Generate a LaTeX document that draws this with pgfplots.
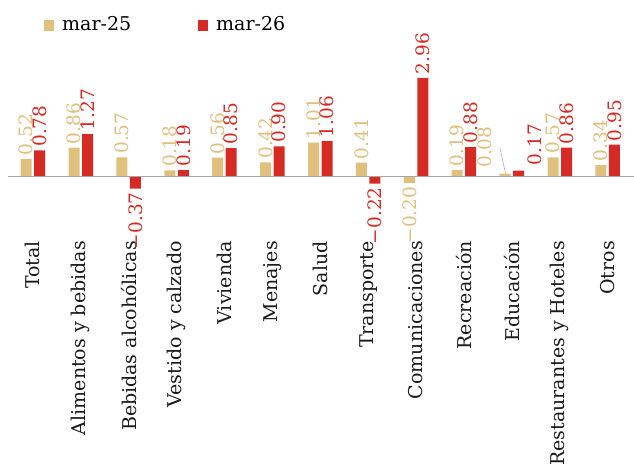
\documentclass[border=0pt]{standalone}
\usepackage{fontspec}
\setmainfont{DejaVu Serif}
\usepackage{pgfplots}
\usepackage{pgfplotstable}
\pgfplotsset{compat=1.18}
\definecolor{tanc}{HTML}{E0C07E}
\definecolor{redc}{HTML}{D52B24}
\definecolor{zeroc}{HTML}{A6A6A6}
\pgfplotstableread{
x a la b lb
0 0.52 0.52 0.78 0.78
1 0.86 0.86 1.27 1.27
2 0.57 0.57 -0.37 −0.37
3 0.18 0.18 0.19 0.19
4 0.56 0.56 0.85 0.85
5 0.42 0.42 0.90 0.90
6 1.01 1.01 1.06 1.06
7 0.41 0.41 -0.22 −0.22
8 -0.20 −0.20 2.96 2.96
9 0.19 0.19 0.88 0.88
10 0.08 {} 0.17 {}
11 0.57 0.57 0.86 0.86
12 0.34 0.34 0.95 0.95
}\data
\newcommand{\lblfont}{\fontsize{18.5bp}{22bp}\selectfont}
\newcommand{\tckfont}{\fontsize{19bp}{23bp}\selectfont}
\begin{document}
\begin{tikzpicture}
\begin{axis}[
  at={(0,0)}, anchor=south west,
  scale only axis, width=626bp, height=171.2bp,
  xmin=-0.52, xmax=12.55, ymin=-1.94, ymax=3.2,
  ybar=2.5bp, bar width=11bp,
  axis line style={draw=none},
  major tick length=0pt,
  ytick=\empty,
  xtick={0,...,12},
  xticklabels={Total, Alimentos y bebidas, Bebidas alcohólicas, Vestido y calzado, Vivienda, Menajes, Salud, Transporte, Comunicaciones, Recreación, Educación, Restaurantes y Hoteles, Otros},
  xticklabel style={rotate=90, anchor=east, inner sep=0pt, font=\tckfont, text=black!90},
  clip=false,
  legend columns=2,
  legend cell align=left,
  legend style={at={(axis description cs:0.0575,1.219)}, anchor=south west, draw=none, fill=none, inner sep=0pt, font=\tckfont,
    nodes={inner sep=0pt},
    /tikz/every odd column/.append style={column sep=8bp},
    /tikz/every even column/.append style={column sep=67bp}},
  legend image code/.code={\fill[#1, draw=none] (0bp,-7bp) rectangle (10bp,4bp);},
]
\addplot[fill=tanc, draw=none, nodes near coords, point meta=explicit symbolic,
  visualization depends on={\thisrow{a} \as \rawy},
  every node near coord/.append style={rotate=90, inner sep=0pt, inner xsep=3.5bp, font=\lblfont, text=tanc,
    anchor=\ifdim\rawy pt<0pt east\else west\fi}]
  table[x=x, y=a, meta=la] {\data};
\addlegendentry{mar-25}
\addplot[fill=redc, draw=none, nodes near coords, point meta=explicit symbolic,
  visualization depends on={\thisrow{b} \as \rawy},
  every node near coord/.append style={rotate=90, inner sep=0pt, inner xsep=3.5bp, font=\lblfont, text=redc,
    anchor=\ifdim\rawy pt<0pt east\else west\fi}]
  table[x=x, y=b, meta=lb] {\data};
\addlegendentry{mar-26}
\draw[zeroc, line width=1.5bp] (axis cs:-0.52,0) -- (axis cs:12.55,0);
\draw[black!30, line width=0.6bp] (axis cs:9.75,0.86) -- (axis cs:9.87,0.075);
\node[rotate=90, anchor=west, inner sep=0pt, font=\lblfont, text=tanc] at (axis cs:9.44,0.256) {0.08};
\node[rotate=90, anchor=west, inner sep=0pt, font=\lblfont, text=redc] at (axis cs:10.47,0.33) {0.17};
\end{axis}
\pgfresetboundingbox
\path[use as bounding box] (-8bp,-226bp) rectangle (626bp,241bp);
\end{tikzpicture}
\end{document}
